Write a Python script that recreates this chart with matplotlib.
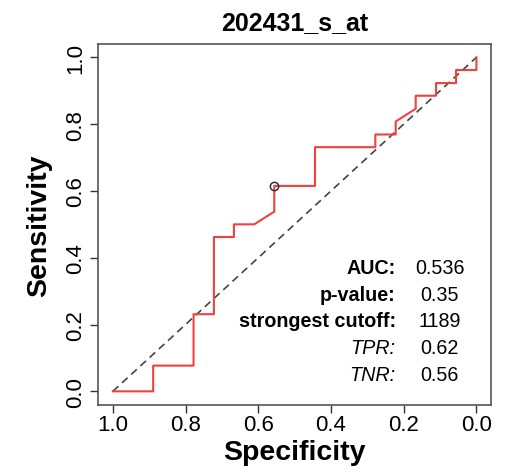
import matplotlib
matplotlib.use('Agg')
import matplotlib.pyplot as plt

plt.rcParams['font.family'] = ['Liberation Sans', 'DejaVu Sans']

# ROC curve (specificity decreasing from 1 to 0)
specificity = [1.0, 0.889, 0.889, 0.778, 0.778, 0.722, 0.722, 0.667, 0.667,
               0.611, 0.556, 0.556, 0.444, 0.444, 0.278, 0.278, 0.222, 0.222,
               0.167, 0.167, 0.111, 0.111, 0.056, 0.056, 0.0, 0.0]
sensitivity = [0.0, 0.0, 0.077, 0.077, 0.231, 0.231, 0.462, 0.462, 0.5,
               0.5, 0.538, 0.615, 0.615, 0.731, 0.731, 0.769, 0.769, 0.808,
               0.846, 0.885, 0.885, 0.923, 0.923, 0.962, 0.962, 1.0]

best_spec = 0.556
best_sens = 0.615

title = '202431_s_at'
stat_labels = ['AUC:', 'p-value:', 'strongest cutoff:', 'TPR:', 'TNR:']
stat_values = ['0.536', '0.35', '1189', '0.62', '0.56']
stat_styles = ['bold', 'bold', 'bold', 'italic', 'italic']

ticks = [0.0, 0.2, 0.4, 0.6, 0.8, 1.0]

fig = plt.figure(figsize=(5.10, 4.77), dpi=100)
ax = fig.add_axes([0.1927, 0.1495, 0.7700, 0.7562])

ax.plot([1, 0], [0, 1], color='#444444', lw=1.2, ls=(0, (4.5, 3)))
ax.plot(specificity, sensitivity, color='#f24040', lw=1.5)
ax.plot([best_spec], [best_sens], 'o', mfc='none', mec='#333333', ms=6, mew=1.1)

ax.set_xlim(1.04, -0.04)
ax.set_ylim(-0.04, 1.04)
ax.set_xticks(ticks)
ax.set_yticks(ticks)
ax.set_xticklabels([f'{t:.1f}' for t in ticks])
ax.set_yticklabels([f'{t:.1f}' for t in ticks], rotation=90, va='center')
ax.tick_params(length=5.5, width=1.0, labelsize=16, color='#333333')
ax.tick_params(axis='x', pad=1.5)
ax.tick_params(axis='y', pad=3.5)
for s in ax.spines.values():
    s.set_color('#555555')
    s.set_linewidth(1.2)

ax.set_title(title, fontsize=18, fontweight='bold', pad=11)
ax.set_xlabel('Specificity', fontsize=20.5, fontweight='bold', labelpad=2.5)
ax.set_ylabel('Sensitivity', fontsize=20.5, fontweight='bold', labelpad=9)

for i, (lab, val, st) in enumerate(zip(stat_labels, stat_values, stat_styles)):
    y = 0.371 - 0.08 * i
    if st == 'bold':
        ax.text(0.222, y, lab, ha='right', va='center', fontsize=14.2, fontweight='bold')
    else:
        ax.text(0.222, y, lab, ha='right', va='center', fontsize=14.2, fontstyle='italic')
    ax.text(0.101, y, val, ha='center', va='center', fontsize=14.2)

fig.savefig('out.png', dpi=100)
